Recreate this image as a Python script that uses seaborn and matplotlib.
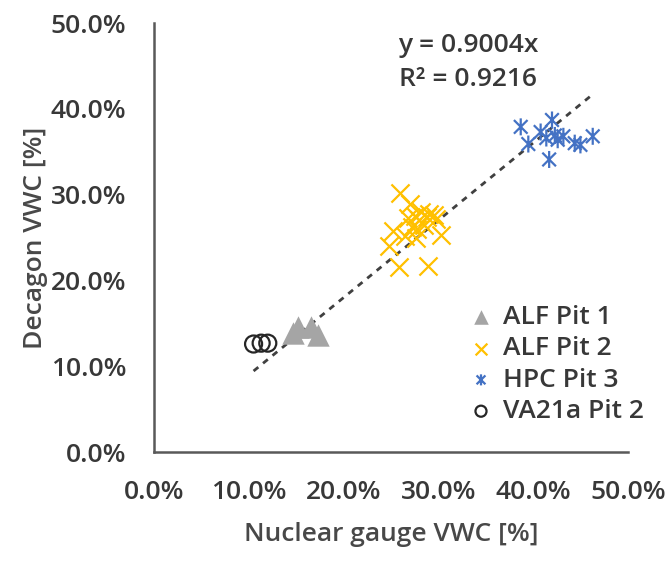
import numpy as np
import matplotlib
matplotlib.use('Agg')
import matplotlib.pyplot as plt
import seaborn as sns
from matplotlib.path import Path
from matplotlib.ticker import PercentFormatter

# Values (VWC in %)
alf1_x = [14.7, 15.2, 16.6, 17.3]
alf1_y = [13.9, 14.6, 14.6, 13.7]

alf2_x = [26.0, 27.0, 24.8, 25.2, 25.9, 28.9, 30.3, 27.5, 28.0, 28.5, 29.0, 29.5,
          27.8, 28.2, 26.8, 27.2, 29.8, 28.8, 26.5, 27.6]
alf2_y = [30.2, 28.9, 24.0, 25.8, 21.6, 21.7, 25.3, 27.5, 27.0, 26.5, 27.8, 27.6,
          26.0, 28.0, 27.3, 26.2, 27.2, 27.4, 25.2, 25.0]

hpc_x = [38.7, 39.5, 40.8, 42.0, 41.7, 42.3, 43.2, 44.4, 45.0, 46.3, 42.6, 41.4]
hpc_y = [37.9, 35.9, 37.3, 38.7, 34.1, 36.9, 36.8, 36.0, 35.8, 36.8, 36.4, 36.6]

va_x = [10.5, 11.3, 12.0]
va_y = [12.6, 12.7, 12.7]

slope = 0.9004
r2 = 0.9216

series = [
    ('ALF Pit 1', alf1_x, alf1_y),
    ('ALF Pit 2', alf2_x, alf2_y),
    ('HPC Pit 3', hpc_x, hpc_y),
    ('VA21a Pit 2', va_x, va_y),
]

# Excel style "star": x-cross with a vertical bar
star = Path([(-1, -1), (1, 1), (-1, 1), (1, -1), (0, -1.25), (0, 1.25)],
            [Path.MOVETO, Path.LINETO, Path.MOVETO, Path.LINETO, Path.MOVETO, Path.LINETO])

sns.set_style('white')
plt.rcParams['font.family'] = ['Open Sans', 'DejaVu Sans']
plt.rcParams['font.weight'] = 'semibold'
plt.rcParams['axes.labelweight'] = 'semibold'
txt_col = '#383838'
fs = 19

fig = plt.figure(figsize=(6.7, 5.61), dpi=100)
ax = fig.add_axes([0.230, 0.194, 0.707, 0.765])

sns.scatterplot(x=alf1_x, y=alf1_y, ax=ax, marker='^', s=260, color='#A5A5A5',
                edgecolor='#A5A5A5', linewidth=0, label='ALF Pit 1', zorder=3)
sns.scatterplot(x=alf2_x, y=alf2_y, ax=ax, marker='x', s=170, color='#FFC000',
                linewidth=1.6, label='ALF Pit 2', zorder=3)
sns.scatterplot(x=hpc_x, y=hpc_y, ax=ax, marker=star, s=150, facecolor='none',
                edgecolor='#4472C4', linewidth=1.6, label='HPC Pit 3', zorder=3)
sns.scatterplot(x=va_x, y=va_y, ax=ax, marker='o', s=150, facecolor='none',
                edgecolor='#262626', linewidth=1.6, label='VA21a Pit 2', zorder=3)

# linear trendline through origin, over the data range
all_x = np.concatenate([np.array(s[1]) for s in series])
fit_x = np.array([all_x.min(), all_x.max()])
sns.lineplot(x=fit_x, y=slope * fit_x, ax=ax, color='#404040', linewidth=2,
             linestyle=(0, (2.2, 2.2)), zorder=2)

ax.text(25.8, 47.4, f'y = {slope}x', fontsize=fs, color=txt_col, va='center')
ax.text(25.8, 43.4, f'R² = {r2}', fontsize=fs, color=txt_col, va='center')

ax.set_xlim(0, 50)
ax.set_ylim(0, 50)
ax.set_xticks(np.arange(0, 51, 10))
ax.set_yticks(np.arange(0, 51, 10))
ax.xaxis.set_major_formatter(PercentFormatter(decimals=1))
ax.yaxis.set_major_formatter(PercentFormatter(decimals=1))
ax.tick_params(direction='in', length=7, width=1.5, colors='#595959',
               labelcolor=txt_col, labelsize=fs)
ax.tick_params(axis='y', pad=20)
ax.tick_params(axis='x', pad=20)

for side in ['top', 'right']:
    ax.spines[side].set_visible(False)
for side in ['left', 'bottom']:
    ax.spines[side].set_color('#595959')
    ax.spines[side].set_linewidth(1.8)

ax.set_xlabel('Nuclear gauge VWC [%]', fontsize=fs, color='#484848', labelpad=12)
ax.set_ylabel('Decagon VWC [%]', fontsize=fs, color='#484848', labelpad=2)

leg = ax.legend(loc='lower right', bbox_to_anchor=(1.085, 0.01), frameon=False,
                fontsize=fs, handletextpad=0.35, labelspacing=0.24,
                handlelength=1.0, markerscale=0.65, labelcolor=txt_col)

fig.savefig('out.png', dpi=100, facecolor='white')
